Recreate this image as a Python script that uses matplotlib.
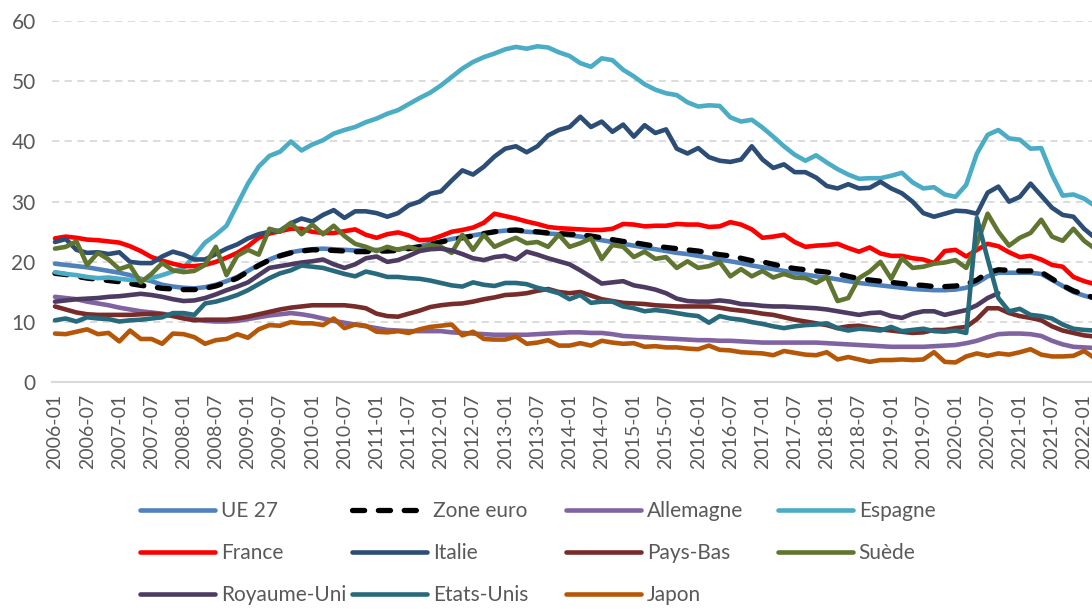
import numpy as np
import matplotlib.pyplot as plt

plt.rcParams['font.family'] = ['Lato', 'DejaVu Sans']

# mois (une valeur tous les deux mois, de 2006-01 à 2022-03)
mois = [f"{2006 + i // 12}-{i % 12 + 1:02d}" for i in range(0, 196, 2)]
etiquettes = [f"{2006 + i // 12}-{i % 12 + 1:02d}" for i in range(0, 193, 6)]

ue27 = [19.7, 19.5, 19.3, 19.1, 18.8, 18.5, 18.2, 17.8, 17.2, 16.8,
        16.2, 15.9, 15.7, 15.6, 15.8, 16.2, 16.8, 17.5, 18.5, 19.5,
        20.4, 21.1, 21.6, 21.9, 22.1, 22.2, 22.1, 22.0, 21.9, 21.9,
        22.0, 22.0, 22.1, 22.3, 22.6, 23.0, 23.4, 23.8, 24.1, 24.4,
        24.7, 25.0, 25.2, 25.2, 25.0, 24.9, 24.7, 24.6, 24.4, 24.2,
        23.9, 23.6, 23.3, 23.0, 22.7, 22.4, 22.1, 21.8, 21.5, 21.3,
        21.0, 20.7, 20.4, 20.1, 19.8, 19.4, 19.1, 18.8, 18.5, 18.2,
        17.9, 17.6, 17.4, 17.1, 16.8, 16.5, 16.3, 16.1, 15.9, 15.7,
        15.5, 15.4, 15.3, 15.3, 15.4, 15.7, 16.5, 17.6, 18.2, 18.2,
        18.2, 18.2, 18.0, 17.0, 16.0, 15.0, 14.4, 13.9]
zone_euro = [18.1, 17.9, 17.6, 17.3, 17.1, 16.9, 16.7, 16.4, 16.1, 15.9,
             15.6, 15.5, 15.4, 15.4, 15.6, 16.0, 16.6, 17.3, 18.4, 19.4,
             20.3, 21.0, 21.5, 21.8, 22.0, 22.0, 21.9, 21.8, 21.7, 21.7,
             21.8, 21.8, 21.9, 22.2, 22.5, 22.9, 23.3, 23.7, 24.0, 24.3,
             24.7, 25.0, 25.2, 25.3, 25.1, 25.0, 24.8, 24.7, 24.6, 24.5,
             24.3, 24.0, 23.7, 23.4, 23.2, 22.9, 22.6, 22.4, 22.2, 22.0,
             21.8, 21.5, 21.2, 21.0, 20.6, 20.2, 20.0, 19.6, 19.2, 18.9,
             18.7, 18.5, 18.3, 18.0, 17.6, 17.2, 17.0, 16.8, 16.6, 16.4,
             16.2, 16.1, 15.9, 15.9, 16.0, 16.3, 17.0, 18.2, 18.7, 18.6,
             18.5, 18.5, 18.3, 17.2, 16.1, 15.2, 14.6, 14.0]
allemagne = [14.2, 14.0, 13.8, 13.4, 13.1, 12.8, 12.4, 12.1, 11.8, 11.6,
             11.4, 11.1, 10.8, 10.5, 10.2, 10.1, 10.1, 10.2, 10.5, 10.8,
             11.1, 11.3, 11.5, 11.3, 11.0, 10.6, 10.2, 9.9, 9.6, 9.3,
             9.0, 8.7, 8.6, 8.5, 8.5, 8.5, 8.5, 8.3, 8.2, 8.1,
             8.0, 7.9, 7.9, 7.9, 7.9, 8.0, 8.1, 8.2, 8.3, 8.3,
             8.2, 8.2, 8.0, 7.7, 7.6, 7.5, 7.4, 7.3, 7.2, 7.1,
             7.0, 7.0, 6.9, 6.9, 6.8, 6.7, 6.6, 6.6, 6.6, 6.6,
             6.6, 6.6, 6.5, 6.4, 6.3, 6.2, 6.1, 6.0, 5.9, 5.9,
             5.9, 5.9, 6.0, 6.1, 6.2, 6.5, 6.9, 7.5, 8.0, 8.1,
             8.1, 8.0, 7.7, 6.9, 6.3, 5.9, 5.8, 5.7]
espagne = [18.3, 18.0, 17.8, 17.5, 17.3, 17.4, 17.2, 17.0, 17.0, 17.3,
           17.8, 18.4, 19.0, 21.0, 23.2, 24.5, 26.0, 29.5, 33.0, 35.8,
           37.6, 38.3, 40.0, 38.5, 39.5, 40.2, 41.3, 41.9, 42.4, 43.2,
           43.8, 44.6, 45.2, 46.2, 47.2, 48.1, 49.3, 50.7, 52.1, 53.2,
           54.0, 54.6, 55.3, 55.7, 55.4, 55.8, 55.6, 54.8, 54.2, 53.0,
           52.4, 53.8, 53.5, 51.9, 50.8, 49.5, 48.6, 48.0, 47.7, 46.5,
           45.8, 46.0, 45.9, 44.0, 43.3, 43.6, 42.3, 40.8, 39.2, 37.8,
           36.8, 37.7, 36.5, 35.4, 34.5, 33.8, 33.9, 33.9, 34.3, 34.8,
           33.2, 32.2, 32.4, 31.2, 30.8, 32.8, 38.0, 41.1, 41.9, 40.5,
           40.3, 38.8, 38.9, 34.5, 31.0, 31.2, 30.5, 29.3]
france = [23.9, 24.2, 24.0, 23.7, 23.6, 23.4, 23.2, 22.6, 21.8, 20.8,
          20.2, 19.7, 19.3, 19.3, 19.5, 20.0, 20.7, 21.5, 22.6, 24.0,
          24.7, 25.1, 25.5, 25.5, 25.0, 24.8, 24.8, 25.1, 25.4, 24.5,
          24.0, 24.6, 24.9, 24.4, 23.6, 23.7, 24.3, 25.0, 25.3, 25.7,
          26.5, 28.0, 27.6, 27.2, 26.7, 26.3, 25.8, 25.6, 25.5, 25.4,
          25.3, 25.3, 25.5, 26.3, 26.2, 25.9, 26.0, 26.0, 26.3, 26.2,
          26.2, 25.8, 25.9, 26.6, 26.2, 25.4, 24.0, 24.2, 24.5, 23.3,
          22.5, 22.7, 22.8, 23.0, 22.3, 21.7, 22.4, 21.4, 21.0, 21.0,
          20.6, 20.4, 19.8, 21.8, 22.0, 20.9, 22.0, 23.0, 22.6, 21.6,
          20.8, 21.0, 20.4, 19.5, 19.2, 17.5, 16.8, 16.3]
italie = [23.3, 23.8, 22.0, 21.5, 21.6, 21.3, 21.6, 20.0, 19.8, 19.8,
          20.9, 21.7, 21.2, 20.4, 20.4, 21.3, 22.2, 22.9, 23.9, 24.6,
          25.0, 25.2, 26.4, 27.2, 26.7, 27.8, 28.6, 27.3, 28.4, 28.4,
          28.1, 27.5, 28.1, 29.4, 30.0, 31.3, 31.7, 33.5, 35.2, 34.5,
          35.8, 37.5, 38.8, 39.2, 38.2, 39.2, 41.0, 41.9, 42.4, 44.1,
          42.4, 43.3, 41.6, 42.8, 40.8, 42.7, 41.4, 42.0, 38.8, 38.0,
          38.9, 37.4, 36.8, 36.6, 37.0, 39.2, 37.0, 35.6, 36.2, 34.9,
          34.9, 34.0, 32.6, 32.2, 32.9, 32.2, 32.3, 33.3, 32.2, 31.4,
          30.0, 28.1, 27.5, 28.0, 28.5, 28.4, 28.0, 31.5, 32.5, 30.0,
          30.8, 33.0, 31.0, 29.0, 27.8, 27.5, 25.5, 24.0]
pays_bas = [12.6, 12.1, 11.6, 11.3, 11.2, 11.2, 11.2, 11.2, 11.3, 11.4,
            11.3, 11.0, 10.6, 10.3, 10.4, 10.4, 10.4, 10.6, 10.9, 11.3,
            11.7, 12.1, 12.4, 12.6, 12.8, 12.8, 12.8, 12.8, 12.6, 12.3,
            11.4, 11.0, 10.9, 11.4, 11.9, 12.5, 12.8, 13.0, 13.1, 13.4,
            13.8, 14.1, 14.5, 14.6, 14.8, 15.2, 15.5, 15.0, 14.8, 15.0,
            14.4, 13.8, 13.5, 13.2, 13.1, 13.0, 12.8, 12.7, 12.6, 12.6,
            12.6, 12.6, 12.4, 12.1, 11.9, 11.7, 11.4, 11.2, 10.8, 10.4,
            10.1, 9.8, 9.5, 9.0, 9.3, 9.4, 9.1, 8.8, 8.6, 8.4,
            8.2, 8.3, 8.7, 8.7, 9.0, 9.2, 10.5, 12.3, 12.3, 11.5,
            11.0, 10.7, 10.3, 9.3, 8.6, 8.2, 7.8, 7.6]
suede = [22.2, 22.5, 23.4, 19.5, 21.5, 20.4, 18.8, 19.4, 16.6, 18.0,
         19.8, 18.6, 18.3, 18.5, 19.5, 22.5, 17.8, 21.0, 22.0, 21.2,
         25.5, 25.0, 26.5, 24.6, 26.2, 24.6, 26.0, 24.3, 23.0, 22.5,
         21.8, 22.5, 22.0, 22.5, 22.0, 22.8, 22.5, 21.5, 24.5, 22.0,
         24.5, 22.5, 23.3, 24.0, 23.1, 23.3, 22.5, 24.5, 22.5, 23.1,
         23.9, 20.5, 22.8, 22.5, 20.8, 21.7, 20.5, 20.8, 19.0, 20.1,
         19.0, 19.3, 20.0, 17.6, 18.8, 17.6, 18.5, 17.4, 18.0, 17.4,
         17.3, 16.5, 17.5, 13.5, 14.0, 17.3, 18.4, 20.0, 17.2, 20.6,
         19.0, 19.2, 19.7, 19.9, 20.3, 19.0, 23.0, 28.0, 25.0, 22.7,
         24.0, 24.8, 27.0, 24.2, 23.5, 25.5, 23.5, 22.2]
royaume_uni = [13.4, 13.6, 13.8, 13.9, 14.0, 14.2, 14.3, 14.5, 14.7, 14.5,
               14.2, 13.8, 13.5, 13.6, 14.0, 14.6, 15.3, 15.9, 16.6, 17.8,
               19.0, 19.3, 19.6, 19.9, 20.1, 20.4, 19.6, 19.0, 19.6, 20.6,
               20.9, 20.0, 20.3, 21.0, 21.8, 22.1, 22.2, 21.9, 21.3, 20.6,
               20.3, 20.8, 21.0, 20.4, 21.7, 21.2, 20.6, 20.1, 19.6, 18.6,
               17.5, 16.4, 16.6, 16.8, 16.1, 15.8, 15.4, 14.8, 13.9, 13.5,
               13.4, 13.4, 13.6, 13.4, 13.0, 12.9, 12.7, 12.6, 12.6, 12.5,
               12.4, 12.3, 12.1, 11.8, 11.5, 11.2, 11.5, 11.6, 11.0, 10.7,
               11.4, 11.8, 11.8, 11.2, 11.6, 12.0, 12.8, 14.0, 14.8, np.nan,
               np.nan, np.nan, np.nan, np.nan, np.nan, np.nan, np.nan, np.nan]
etats_unis = [10.3, 10.6, 10.1, 10.8, 10.6, 10.5, 10.1, 10.3, 10.4, 10.6,
              10.8, 11.5, 11.5, 11.2, 13.1, 13.4, 13.9, 14.5, 15.3, 16.3,
              17.3, 18.1, 18.6, 19.4, 19.2, 19.0, 18.5, 18.0, 17.6, 18.4,
              18.0, 17.5, 17.5, 17.3, 17.2, 16.9, 16.5, 16.1, 15.9, 16.6,
              16.2, 16.0, 16.5, 16.5, 16.3, 15.7, 15.3, 14.8, 13.8, 14.5,
              13.2, 13.4, 13.4, 12.6, 12.3, 11.8, 12.0, 11.8, 11.5, 11.2,
              11.0, 9.9, 11.0, 10.6, 10.4, 10.0, 9.7, 9.3, 9.0, 9.3,
              9.5, 9.6, 9.8, 9.0, 8.6, 8.9, 8.8, 8.6, 9.2, 8.5,
              8.7, 8.9, 8.5, 8.4, 8.6, 8.2, 27.3, 20.5, 14.0, 11.8,
              12.2, 11.2, 11.0, 10.6, 9.6, 8.9, 8.7, 8.6]
japon = [8.1, 8.0, 8.4, 8.8, 8.0, 8.2, 6.8, 8.6, 7.2, 7.2,
         6.4, 8.1, 8.0, 7.5, 6.4, 7.0, 7.2, 8.0, 7.4, 8.8,
         9.5, 9.4, 10.0, 9.8, 9.8, 9.5, 10.6, 9.0, 9.6, 9.4,
         8.4, 8.3, 8.5, 8.2, 8.8, 9.2, 9.4, 9.6, 7.8, 8.4,
         7.2, 7.1, 7.1, 7.6, 6.4, 6.6, 7.0, 6.1, 6.1, 6.5,
         6.1, 6.9, 6.6, 6.4, 6.5, 5.9, 6.0, 5.8, 5.8, 5.6,
         5.5, 6.1, 5.4, 5.3, 5.0, 4.9, 4.8, 4.5, 5.2, 4.9,
         4.6, 4.5, 5.0, 3.8, 4.2, 3.8, 3.4, 3.7, 3.7, 3.8,
         3.7, 3.8, 5.0, 3.4, 3.3, 4.3, 4.8, 4.4, 4.8, 4.6,
         5.0, 5.5, 4.6, 4.3, 4.3, 4.4, 5.2, 4.0]

# ordre des séries (= ordre de la légende, ligne par ligne)
series = [
    ("UE 27", ue27, "#4F81BD"),
    ("Zone euro", zone_euro, "black"),
    ("Allemagne", allemagne, "#8064A2"),
    ("Espagne", espagne, "#4BACC6"),
    ("France", france, "#FF0000"),
    ("Italie", italie, "#2C4D75"),
    ("Pays-Bas", pays_bas, "#772C2A"),
    ("Suède", suede, "#5F7530"),
    ("Royaume-Uni", royaume_uni, "#4D3B62"),
    ("Etats-Unis", etats_unis, "#276A7C"),
    ("Japon", japon, "#B65708"),
]

# position de chaque mois sur l'axe des catégories
x = [(int(m[:4]) - 2006) * 12 + int(m[5:]) - 1 for m in mois]
x_ticks = [(int(m[:4]) - 2006) * 12 + int(m[5:]) - 1 for m in etiquettes]

fig = plt.figure(figsize=(10.92, 6.09), dpi=100)
ax = fig.add_axes([0.0479, 0.3722, 0.9817, 0.5933])

lignes = {}
for nom, valeurs, couleur in series:
    if nom == "Zone euro":
        l, = ax.plot(x, valeurs, color=couleur, lw=3.8, linestyle=(0, (2.3, 2.6)),
                     dash_capstyle="round", label=nom, zorder=3)
    else:
        l, = ax.plot(x, valeurs, color=couleur, lw=3.3, solid_joinstyle="round",
                     solid_capstyle="round", label=nom, zorder=3)
    lignes[nom] = l

ax.set_xlim(-0.5, 199.5)
ax.set_ylim(0, 60)
ax.set_yticks(range(0, 61, 10))
ax.set_xticks(x_ticks)
ax.set_xticklabels(etiquettes, rotation=90)
ax.yaxis.grid(True, color="#D9D9D9", linestyle=(0, (4, 3)), lw=1.3)
ax.set_axisbelow(True)
for s in ["top", "right", "left"]:
    ax.spines[s].set_visible(False)
ax.spines["bottom"].set_color("#D9D9D9")
ax.spines["bottom"].set_linewidth(1.5)
ax.tick_params(axis="y", length=0, labelsize=15, labelcolor="#595959", pad=12)
ax.tick_params(axis="x", length=0, labelsize=14, labelcolor="#595959", pad=8)

# légende en 4 colonnes régulières
colonnes = [
    ["UE 27", "France", "Royaume-Uni"],
    ["Zone euro", "Italie", "Etats-Unis"],
    ["Allemagne", "Pays-Bas", "Japon"],
    ["Espagne", "Suède"],
]
x_col = [0.128, 0.322, 0.518, 0.712]
for noms, xc in zip(colonnes, x_col):
    fig.legend([lignes[n] for n in noms], noms, loc="upper left",
               bbox_to_anchor=(xc, 0.177), frameon=False, fontsize=15,
               handlelength=3.6, handletextpad=0.3, labelspacing=1.05,
               borderpad=0, borderaxespad=0, labelcolor="#595959")

fig.savefig("out.png", dpi=100)
